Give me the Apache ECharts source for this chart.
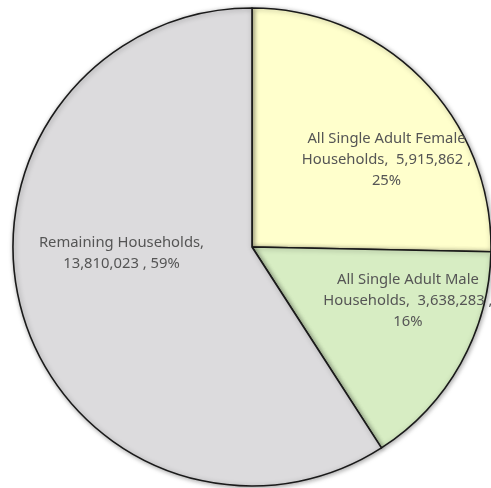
<!DOCTYPE html>
<html>
<head>
<meta charset="utf-8">
<script src="https://cdn.jsdelivr.net/npm/echarts@6/dist/echarts.min.js"></script>
<style>
html,body{margin:0;padding:0;background:#fff;}
#chart{width:491px;height:488px;}
</style>
</head>
<body>
<div id="chart"></div>
<script>
var categories = ['All Single Adult Female Households', 'All Single Adult Male Households', 'Remaining Households'];
var labelNames = ['All Single Adult Female\nHouseholds', 'All Single Adult Male\nHouseholds', 'Remaining Households'];
var values = [5915862, 3638283, 13810023];

var colors = ['#FFFFCC', '#D7EDC3', '#DCDBDD'];
var labelOffsets = [[47, -1], [49, -6], [-13, -28]];

var total = values.reduce(function (a, b) { return a + b; }, 0);
function fmt(n) { return n.toString().replace(/\B(?=(\d{3})+(?!\d))/g, ','); }

var data = categories.map(function (c, i) {
  return {
    name: c,
    value: values[i],
    itemStyle: { color: colors[i] },
    label: { offset: labelOffsets[i] }
  };
});

var chart = echarts.init(document.getElementById('chart'));
chart.setOption({
  animation: false,
  series: [{
    type: 'pie',
    center: [252, 247],
    radius: 239,
    startAngle: 90,
    clockwise: true,
    data: data,
    itemStyle: {
      borderColor: '#1a1a1a',
      borderWidth: 1.6,
      shadowBlur: 5,
      shadowColor: 'rgba(0,0,0,0.35)',
      shadowOffsetX: 1,
      shadowOffsetY: 1
    },
    label: {
      show: true,
      position: 'inside',
      color: '#555555',
      fontFamily: 'Noto Sans',
      fontSize: 14.8,
      lineHeight: 21,
      align: 'center',
      formatter: function (p) {
        var i = p.dataIndex;
        var pct = Math.round(values[i] / total * 100);
        if (i === 2) {
          return labelNames[i] + ',\n' + fmt(values[i]) + ' , ' + pct + '%';
        }
        return labelNames[i] + ',  ' + fmt(values[i]) + ' ,\n' + pct + '%';
      }
    },
    labelLine: { show: false },
    emphasis: { disabled: true }
  }]
});
</script>
</body>
</html>
